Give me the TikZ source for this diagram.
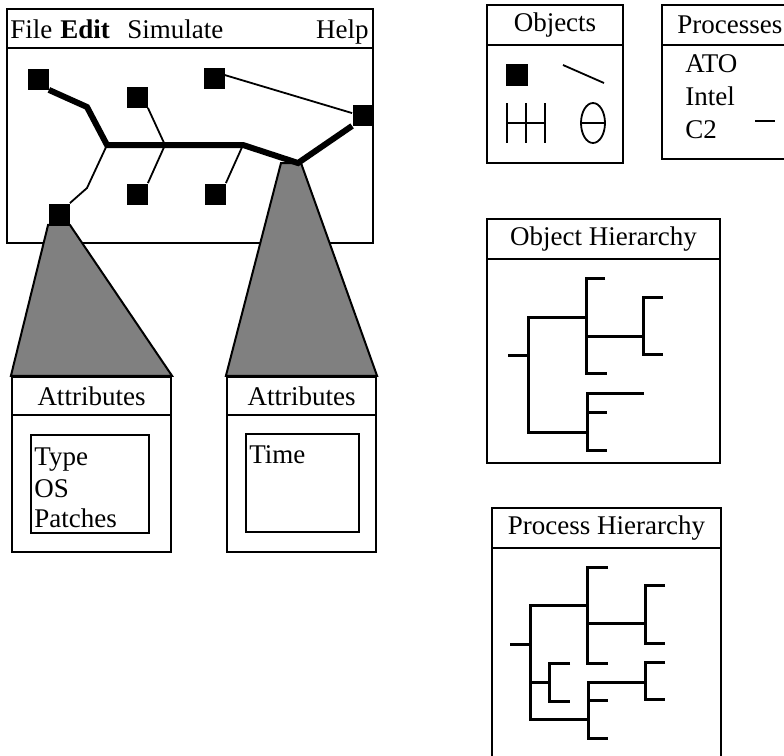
\documentclass[tikz,border=0pt]{standalone}
\usepackage{fontspec}
\setmainfont{Liberation Serif}
\begin{document}
\begin{tikzpicture}[x=0.5pt,y=-0.5pt,font=\fontsize{13.5}{16}\selectfont]
	\tikzstyle{win}=[draw,line width=1.1pt]
	\tikzstyle{obj}=[fill=black,draw=none,shape=rectangle,minimum size=10.5pt,inner sep=0pt]
	\tikzstyle{bus}=[line width=3pt]
	\tikzstyle{link}=[line width=0.9pt]
	\tikzstyle{lens}=[draw,line width=1pt,fill=black!50]
	\tikzstyle{tree}=[line width=1.5pt]
	\tikzstyle{attrwin}=[draw,line width=1.1pt,minimum height=87.5pt,inner sep=0pt]
	\tikzstyle{entry}=[anchor=base west,inner sep=0pt]
	
	\useasboundingbox (0,0) rectangle (784,756);
	
	% main window
	\draw[win] (7,9) rectangle (373,243);
	\draw[win] (7,48) -- (373,48);
	\node[entry](file) at (10,38){File};
	\node[entry](edit) at (60,38){\textbf{Edit}};
	\node[entry](sim) at (127,38){Simulate};
	\node[anchor=base east,inner sep=0pt](help) at (369,38){Help};
	
	\node[attrwin,minimum width=79.5pt](attr1) at (91.5,464.5){};
	\node[attrwin,minimum width=74.5pt](attr2) at (301.5,464.5){};
	
	\node[obj](s1) at (38,79){};
	\node[obj](s2) at (214,78){};
	\node[obj](s3) at (137,97){};
	\node[obj](s4) at (363,115){};
	\node[obj](s5) at (137,194){};
	\node[obj](s6) at (215,194){};
	\node[obj](s7) at (59,214){};
	
	\coordinate(b1) at (87,107);
	\coordinate(j1) at (107,145);
	\coordinate(j2) at (165,145);
	\coordinate(j3) at (243,145);
	\coordinate(j4) at (298,163);
	\coordinate(b2) at (87,188);
	\coordinate(c1) at (281,163);
	\coordinate(c2) at (301,163);
	
	\draw[lens] (s7.south west) -- (s7.south east) -- (attr1.north east) -- (attr1.north west) -- cycle;
	\draw[lens] (c1) -- (c2) -- (attr2.north east) -- (attr2.north west) -- cycle;
	
	\draw[bus] (s1.south east) -- (b1) -- (j1) -- (j3) -- (j4) -- (s4.south west);
	\draw[link] (s3.south east) -- (j2) -- (s5.north east);
	\draw[link] (j3) -- (s6.north east);
	\draw[link] (j1) -- (b2) -- (s7.north east);
	\draw[link] (s2.15) -- (s4.170);
	
	% attribute windows
	\draw[win] (12,415) -- (171,415);
	\node(t1) at (91.5,396){Attributes};
	\draw[link] (31,435) rectangle (149,533);
	\node[entry](type) at (34,465){Type};
	\node[entry](os) at (34,497){OS};
	\node[entry](patch) at (34,527){Patches};
	
	\draw[win] (227,415) -- (376,415);
	\node(t2) at (301.5,396){Attributes};
	\draw[link] (246,434) rectangle (359,532);
	\node[entry](time) at (249,463){Time};
	
	% objects
	\draw[win] (487,5) rectangle (623,163);
	\draw[win] (487,45) -- (623,45);
	\node(t3) at (555,25){Objects};
	\node[obj,minimum size=11pt](box) at (517,74.5){};
	\draw[link] (563,65) -- (604,83);
	\draw[link] (507,103) -- (507,143);
	\draw[link] (526,103) -- (526,143);
	\draw[link] (545,103) -- (545,143);
	\draw[link] (507,123) -- (545,123);
	\draw[link] (593,123) ellipse [x radius=6pt,y radius=10pt];
	\draw[link] (581,123) -- (605,123);
	
	% processes
	\draw[win] (662,5) rectangle (800,159);
	\draw[win] (662,45) -- (800,45);
	\node[anchor=west,inner sep=0pt](t4) at (677,25){Processes};
	\node[entry](ato) at (685,72){ATO};
	\node[entry](intel) at (685,105){Intel};
	\node[entry](c2) at (685,138){C2};
	\draw[link] (755,121) -- (775,121);
	
	% object hierarchy
	\draw[win] (487,219) rectangle (720,463);
	\draw[win] (487,259) -- (720,259);
	\node(t5) at (603.5,239){Object Hierarchy};
	\draw[tree] (508,355) -- (528,355);
	\draw[tree] (586,317) -| (528,432) -- (587,432);
	\draw[tree] (605,278) -| (586,373) -- (607,373);
	\draw[tree] (586,336) -- (643,336);
	\draw[tree] (663,297) -| (643,354) -- (663,354);
	\draw[tree] (644,393) -| (587,450) -- (607,450);
	\draw[tree] (587,412) -- (607,412);
	
	% process hierarchy
	\draw[win] (492,508) rectangle (721,760);
	\draw[win] (492,548) -- (721,548);
	\node(t6) at (606.5,528){Process Hierarchy};
	\draw[tree] (510,644) -- (530,644);
	\draw[tree] (587,605) -| (530,719) -- (588,719);
	\draw[tree] (608,567) -| (587,663) -- (608,663);
	\draw[tree] (587,623) -- (645,623);
	\draw[tree] (665,585) -| (645,643) -- (665,643);
	\draw[tree] (530,682) -- (549,682);
	\draw[tree] (570,663) -| (549,701) -- (570,701);
	\draw[tree] (645,682) -| (588,738) -- (608,738);
	\draw[tree] (588,700) -- (608,700);
	\draw[tree] (665,662) -| (645,699) -- (665,699);
\end{tikzpicture}
\end{document}
